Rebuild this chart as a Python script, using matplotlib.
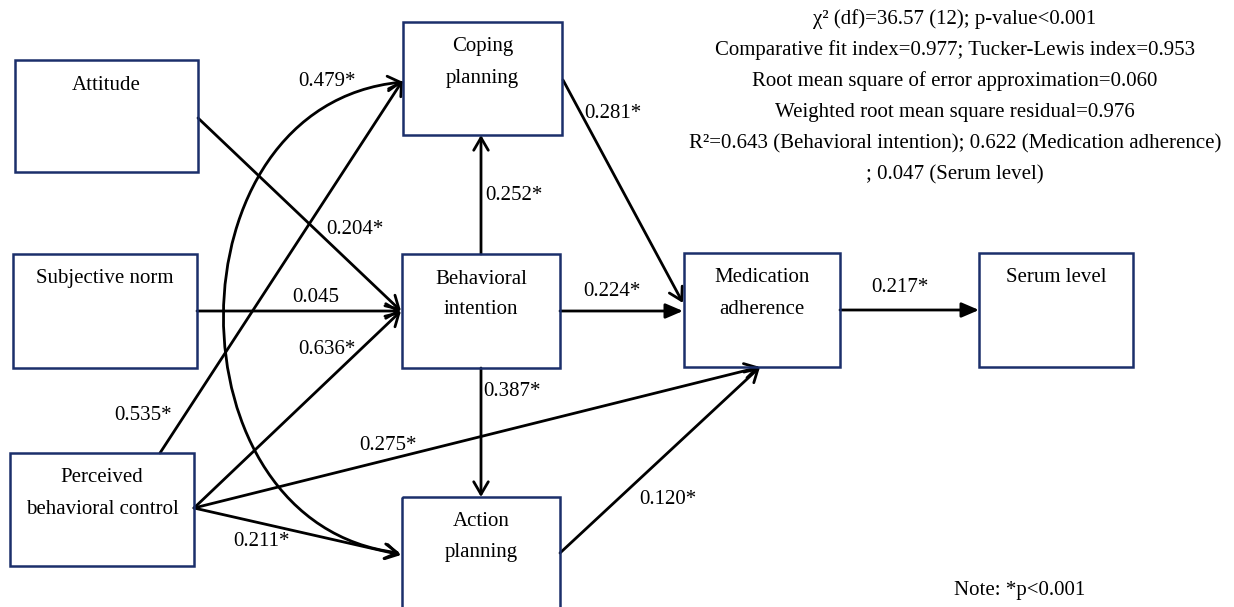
import matplotlib.pyplot as plt
from matplotlib.patches import Rectangle, FancyArrowPatch, ArrowStyle
from matplotlib.path import Path

plt.rcParams['font.family'] = ['Liberation Serif', 'DejaVu Serif']

# --- content ---
node_labels = ["Attitude", "Subjective norm", "Perceived\nbehavioral control",
               "Coping\nplanning", "Behavioral\nintention", "Action\nplanning",
               "Medication\nadherence", "Serum level"]

path_src = ["Attitude", "Subjective norm", "Perceived\nbehavioral control",
            "Perceived\nbehavioral control", "Behavioral\nintention", "Behavioral\nintention",
            "Coping\nplanning", "Behavioral\nintention", "Perceived\nbehavioral control",
            "Action\nplanning", "Perceived\nbehavioral control", "Medication\nadherence"]
path_dst = ["Behavioral\nintention", "Behavioral\nintention", "Behavioral\nintention",
            "Coping\nplanning", "Coping\nplanning", "Action\nplanning",
            "Medication\nadherence", "Medication\nadherence", "Medication\nadherence",
            "Medication\nadherence", "Action\nplanning", "Serum level"]
path_coef = ["0.204*", "0.045", "0.636*", "0.535*", "0.252*", "0.387*",
             "0.281*", "0.224*", "0.275*", "0.120*", "0.211*", "0.217*"]

cov_pair = ("Coping\nplanning", "Action\nplanning")
cov_coef = "0.479*"

fit_lines = ["\u03c7\u00b2 (df)=36.57 (12); p-value<0.001",
             "Comparative fit index=0.977; Tucker-Lewis index=0.953",
             "Root mean square of error approximation=0.060",
             "Weighted root mean square residual=0.976",
             "R\u00b2=0.643 (Behavioral intention); 0.622 (Medication adherence)",
             "; 0.047 (Serum level)"]
note = "Note: *p<0.001"

# --- layout (pixel coords, y down) ---
boxes = [(15, 60, 198, 172), (13, 254, 197, 368), (10, 453, 194, 566),
         (403, 22, 562, 135), (402, 254, 560, 368), (402, 497, 560, 620),
         (684, 253, 840, 367), (979, 253, 1133, 367)]
arrow_pts = [((198, 118), (401, 311)), ((197, 311), (401, 311)), ((194, 508), (401, 311)),
             ((160, 453), (403, 80)), ((481, 254), (481, 135)), ((481, 368), (481, 497)),
             ((563, 80), (683, 303)), ((560, 311), (683, 311)), ((194, 508), (760, 367)),
             ((560, 553), (760, 367)), ((194, 508), (401, 555)), ((840, 310), (979, 310))]
filled = [False, False, False, False, False, False, False, True, False, False, False, True]
label_pts = [(355, 229), (316, 298), (327, 350), (143, 415), (514, 196), (512, 391),
             (613, 113), (612, 292), (388, 446), (668, 499), (262, 541), (900, 287)]

fig = plt.figure(figsize=(12.34, 6.07), dpi=100)
ax = fig.add_axes([0, 0, 1, 1])
ax.set_xlim(0, 1234)
ax.set_ylim(607, 0)
ax.axis('off')

fs = 15
navy = '#1b2f6b'

for lab, (x0, y0, x1, y1) in zip(node_labels, boxes):
    ax.add_patch(Rectangle((x0, y0), x1 - x0, y1 - y0, fill=False,
                           edgecolor=navy, lw=1.8, zorder=3))
    for i, line in enumerate(lab.split("\n")):
        ax.text((x0 + x1) / 2, y0 + 25 + 31 * i, line, ha='center', va='center',
                fontsize=fs, zorder=4)

open_head = ArrowStyle('->', head_length=0.6, head_width=0.35)
solid_head = ArrowStyle('-|>', head_length=0.7, head_width=0.3)
for (p0, p1), f, coef, lp in zip(arrow_pts, filled, path_coef, label_pts):
    ax.add_patch(FancyArrowPatch(p0, p1, arrowstyle=solid_head if f else open_head,
                                 mutation_scale=15, lw=2.0, color='black',
                                 shrinkA=0, shrinkB=0, zorder=2))
    ax.text(lp[0], lp[1], coef, ha='center', va='center', fontsize=fs)

# covariance curve between coping and action planning
curve = Path([(403, 82), (165, 105), (165, 525), (400, 553)],
             [Path.MOVETO, Path.CURVE4, Path.CURVE4, Path.CURVE4])
ax.add_patch(FancyArrowPatch(path=curve, arrowstyle=ArrowStyle('<->', head_length=0.6, head_width=0.35),
                             mutation_scale=15, lw=2.0, color='black', zorder=2))
ax.text(327, 81, cov_coef, ha='center', va='center', fontsize=fs)

for i, line in enumerate(fit_lines):
    ax.text(955, 19 + 31.2 * i, line, ha='center', va='center', fontsize=fs)
ax.text(1020, 590, note, ha='center', va='center', fontsize=fs)

fig.savefig('out.png', dpi=100)
